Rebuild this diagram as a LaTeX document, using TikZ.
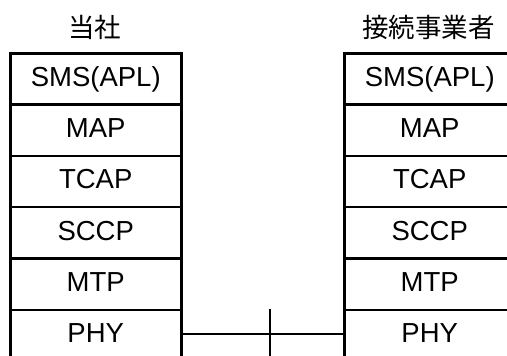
\documentclass[tikz,border=0pt]{standalone}
\usepackage{fontspec}
\setmainfont{Liberation Sans}
\newfontfamily\jpfont{Noto Sans CJK JP}
\begin{document}
\begin{tikzpicture}[x=1pt,y=-1pt,
  layer/.style={draw=black, line width=2.5pt, minimum width=171pt, minimum height=51.3pt, inner sep=0pt, text height=20pt, text depth=5.2pt, anchor=north west, font=\fontsize{27.5}{30}\selectfont},
  title/.style={inner sep=0pt, font=\jpfont\fontsize{26.5}{30}\selectfont},
  wire/.style={draw=black, line width=2.5pt}]
\useasboundingbox (0,0) rectangle (507,356);
\clip (0,0) rectangle (507,356);
\node[title] (tl) at (94.5,27) {当社};
\node[title] (tr) at (428.5,27) {接続事業者};
\foreach \lbl/\nm [count=\i from 0] in {SMS(APL)/sms,MAP/map,TCAP/tcap,SCCP/sccp,MTP/mtp,PHY/phy}{
  \node[layer] (L\nm) at (9,52+51.3*\i) {\lbl};
  \node[layer] (R\nm) at (343,52+51.3*\i) {\lbl};
}
\draw[wire] (Lphy.east |- 0,334) -- (Rphy.west |- 0,334);
\coordinate (mtop) at (270,309);
\coordinate (mbot) at (270,370);
\draw[wire] (mtop) -- (mbot);
\end{tikzpicture}
\end{document}
